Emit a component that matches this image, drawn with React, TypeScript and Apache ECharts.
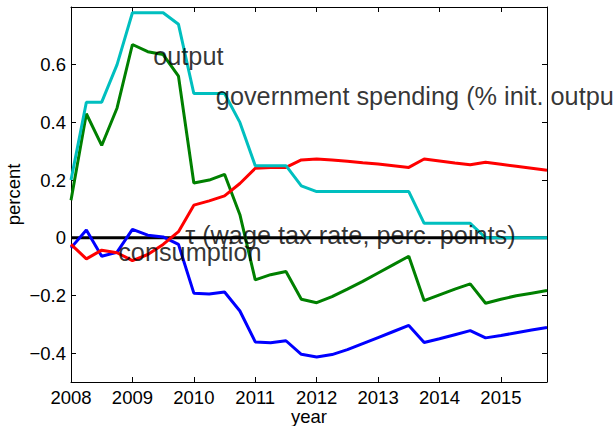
import React, { useEffect, useRef } from "react";
import * as echarts from "echarts";

// Quarterly observations, 2008Q1 .. 2015Q4
const quarters: number[] = Array.from({ length: 32 }, (_, i) => 2008 + i * 0.25);
const yearTicks = [2008, 2009, 2010, 2011, 2012, 2013, 2014, 2015];
const percentTicks = [-0.4, -0.2, 0, 0.2, 0.4, 0.6];

const output = [
  0.13, 0.43, 0.32, 0.45, 0.67, 0.645, 0.635, 0.56,
  0.19, 0.2, 0.22, 0.08, -0.146, -0.128, -0.117, -0.213,
  -0.225, -0.204, -0.178, -0.151, -0.122, -0.093, -0.064, -0.218,
  -0.198, -0.178, -0.16, -0.227, -0.213, -0.201, -0.192, -0.183,
];
const consumption = [
  -0.035, 0.027, -0.064, -0.05, 0.029, 0.009, 0.003, -0.023,
  -0.192, -0.195, -0.188, -0.254, -0.361, -0.364, -0.357, -0.404,
  -0.413, -0.405, -0.388, -0.367, -0.346, -0.325, -0.304, -0.363,
  -0.35, -0.336, -0.322, -0.347, -0.339, -0.329, -0.32, -0.311,
];
const wageTax = [
  -0.023, -0.073, -0.043, -0.052, -0.079, -0.058, -0.023, 0.021,
  0.113, 0.128, 0.145, 0.188, 0.241, 0.244, 0.244, 0.27,
  0.273, 0.27, 0.265, 0.26, 0.256, 0.25, 0.244, 0.273,
  0.266, 0.259, 0.253, 0.262, 0.255, 0.248, 0.241, 0.234,
];
const govSpending = [
  0.2, 0.47, 0.47, 0.6, 0.78, 0.78, 0.78, 0.74,
  0.5, 0.5, 0.5, 0.4, 0.25, 0.25, 0.25, 0.18,
  0.16, 0.16, 0.16, 0.16, 0.16, 0.16, 0.16, 0.05,
  0.05, 0.05, 0.05, 0, 0, 0, 0, 0,
];
const zeroLine = [0, 0];

const FONT = "'Liberation Sans', Arial, Helvetica, sans-serif";
const TICK_SIZE = 18.5;
const NOTE_SIZE = 25.3;
const minusSign = (v: number) => String(v).replace("-", "\u2212");

const pairs = (vals: number[]) => quarters.map((q, i) => [q, vals[i]]);

const lineSeries = (name: string, data: number[][], color: string, z: number) => ({
  type: "line",
  name,
  data,
  showSymbol: false,
  symbol: "none",
  clip: true,
  z,
  lineStyle: { color, width: 3 },
  emphasis: { disabled: true },
});

export default function App() {
  const ref = useRef<HTMLDivElement>(null);

  useEffect(() => {
    if (!ref.current) return;
    const chart = echarts.init(ref.current, undefined, { renderer: "svg" });

    const axisLine = { show: true, onZero: false, lineStyle: { color: "#000", width: 1 } };
    const tickStyle = { color: "#000", width: 1 };

    chart.setOption({
      animation: false,
      textStyle: { fontFamily: FONT },
      grid: {
        left: 71,
        right: 66,
        top: 7,
        bottom: 44,
        containLabel: false,
        outerBoundsMode: "none",
      },
      xAxis: [
        {
          type: "value",
          position: "bottom",
          min: 2008,
          max: 2015.75,
          axisLine,
          axisTick: { inside: true, length: 5, customValues: yearTicks, lineStyle: tickStyle },
          axisLabel: {
            customValues: yearTicks,
            color: "#000",
            fontSize: TICK_SIZE,
            fontFamily: FONT,
            margin: 6,
            formatter: (v: number) => String(v),
          },
          splitLine: { show: false },
          name: "year",
          nameLocation: "middle",
          nameGap: 25,
          nameMoveOverlap: false,
          nameTextStyle: { color: "#000", fontSize: 18.5, fontFamily: FONT },
        },
        {
          type: "value",
          position: "top",
          min: 2008,
          max: 2015.75,
          axisLine,
          axisTick: { inside: true, length: 5, customValues: yearTicks, lineStyle: tickStyle },
          axisLabel: { show: false },
          splitLine: { show: false },
        },
      ],
      yAxis: [
        {
          type: "value",
          position: "left",
          min: -0.5,
          max: 0.8,
          axisLine,
          axisTick: { inside: true, length: 5, customValues: percentTicks, lineStyle: tickStyle },
          axisLabel: {
            customValues: percentTicks,
            color: "#000",
            fontSize: TICK_SIZE,
            fontFamily: FONT,
            margin: 5,
            formatter: (v: number) => minusSign(v),
          },
          splitLine: { show: false },
          name: "percent",
          nameLocation: "middle",
          nameGap: 48,
          nameMoveOverlap: false,
          nameTextStyle: { color: "#000", fontSize: 18.5, fontFamily: FONT },
        },
        {
          type: "value",
          position: "right",
          min: -0.5,
          max: 0.8,
          axisLine,
          axisTick: { inside: true, length: 5, customValues: percentTicks, lineStyle: tickStyle },
          axisLabel: { show: false },
          splitLine: { show: false },
        },
      ],
      series: [
        lineSeries("zero", [[2008, zeroLine[0]], [2015.75, zeroLine[1]]], "#000000", 2),
        lineSeries("output", pairs(output), "#008000", 3),
        lineSeries("consumption", pairs(consumption), "#0000ff", 4),
        lineSeries("tau", pairs(wageTax), "#ff0000", 5),
        lineSeries("government spending", pairs(govSpending), "#00bfbf", 6),
        {
          type: "scatter",
          name: "annotations",
          z: 10,
          silent: true,
          symbol: "circle",
          symbolSize: 1,
          itemStyle: { color: "rgba(0,0,0,0)" },
          label: {
            show: true,
            position: "right",
            distance: 0,
            formatter: "{b}",
            color: "#000",
            fontSize: NOTE_SIZE,
            fontFamily: FONT,
          },
          data: [
            { name: "output", value: [2009.33, 0.63] },
            { name: "government spending (% init. output)", value: [2010.35, 0.49] },
            { name: "\u03c4 (wage tax rate, perc. points)", value: [2009.85, 0.01] },
            { name: "consumption", value: [2008.76, -0.051] },
          ],
        },
      ],
    });

    return () => chart.dispose();
  }, []);

  return (
    <div
      ref={ref}
      style={{ position: "absolute", left: 0, top: 0, width: 613, height: 426, background: "#fff" }}
    />
  );
}
